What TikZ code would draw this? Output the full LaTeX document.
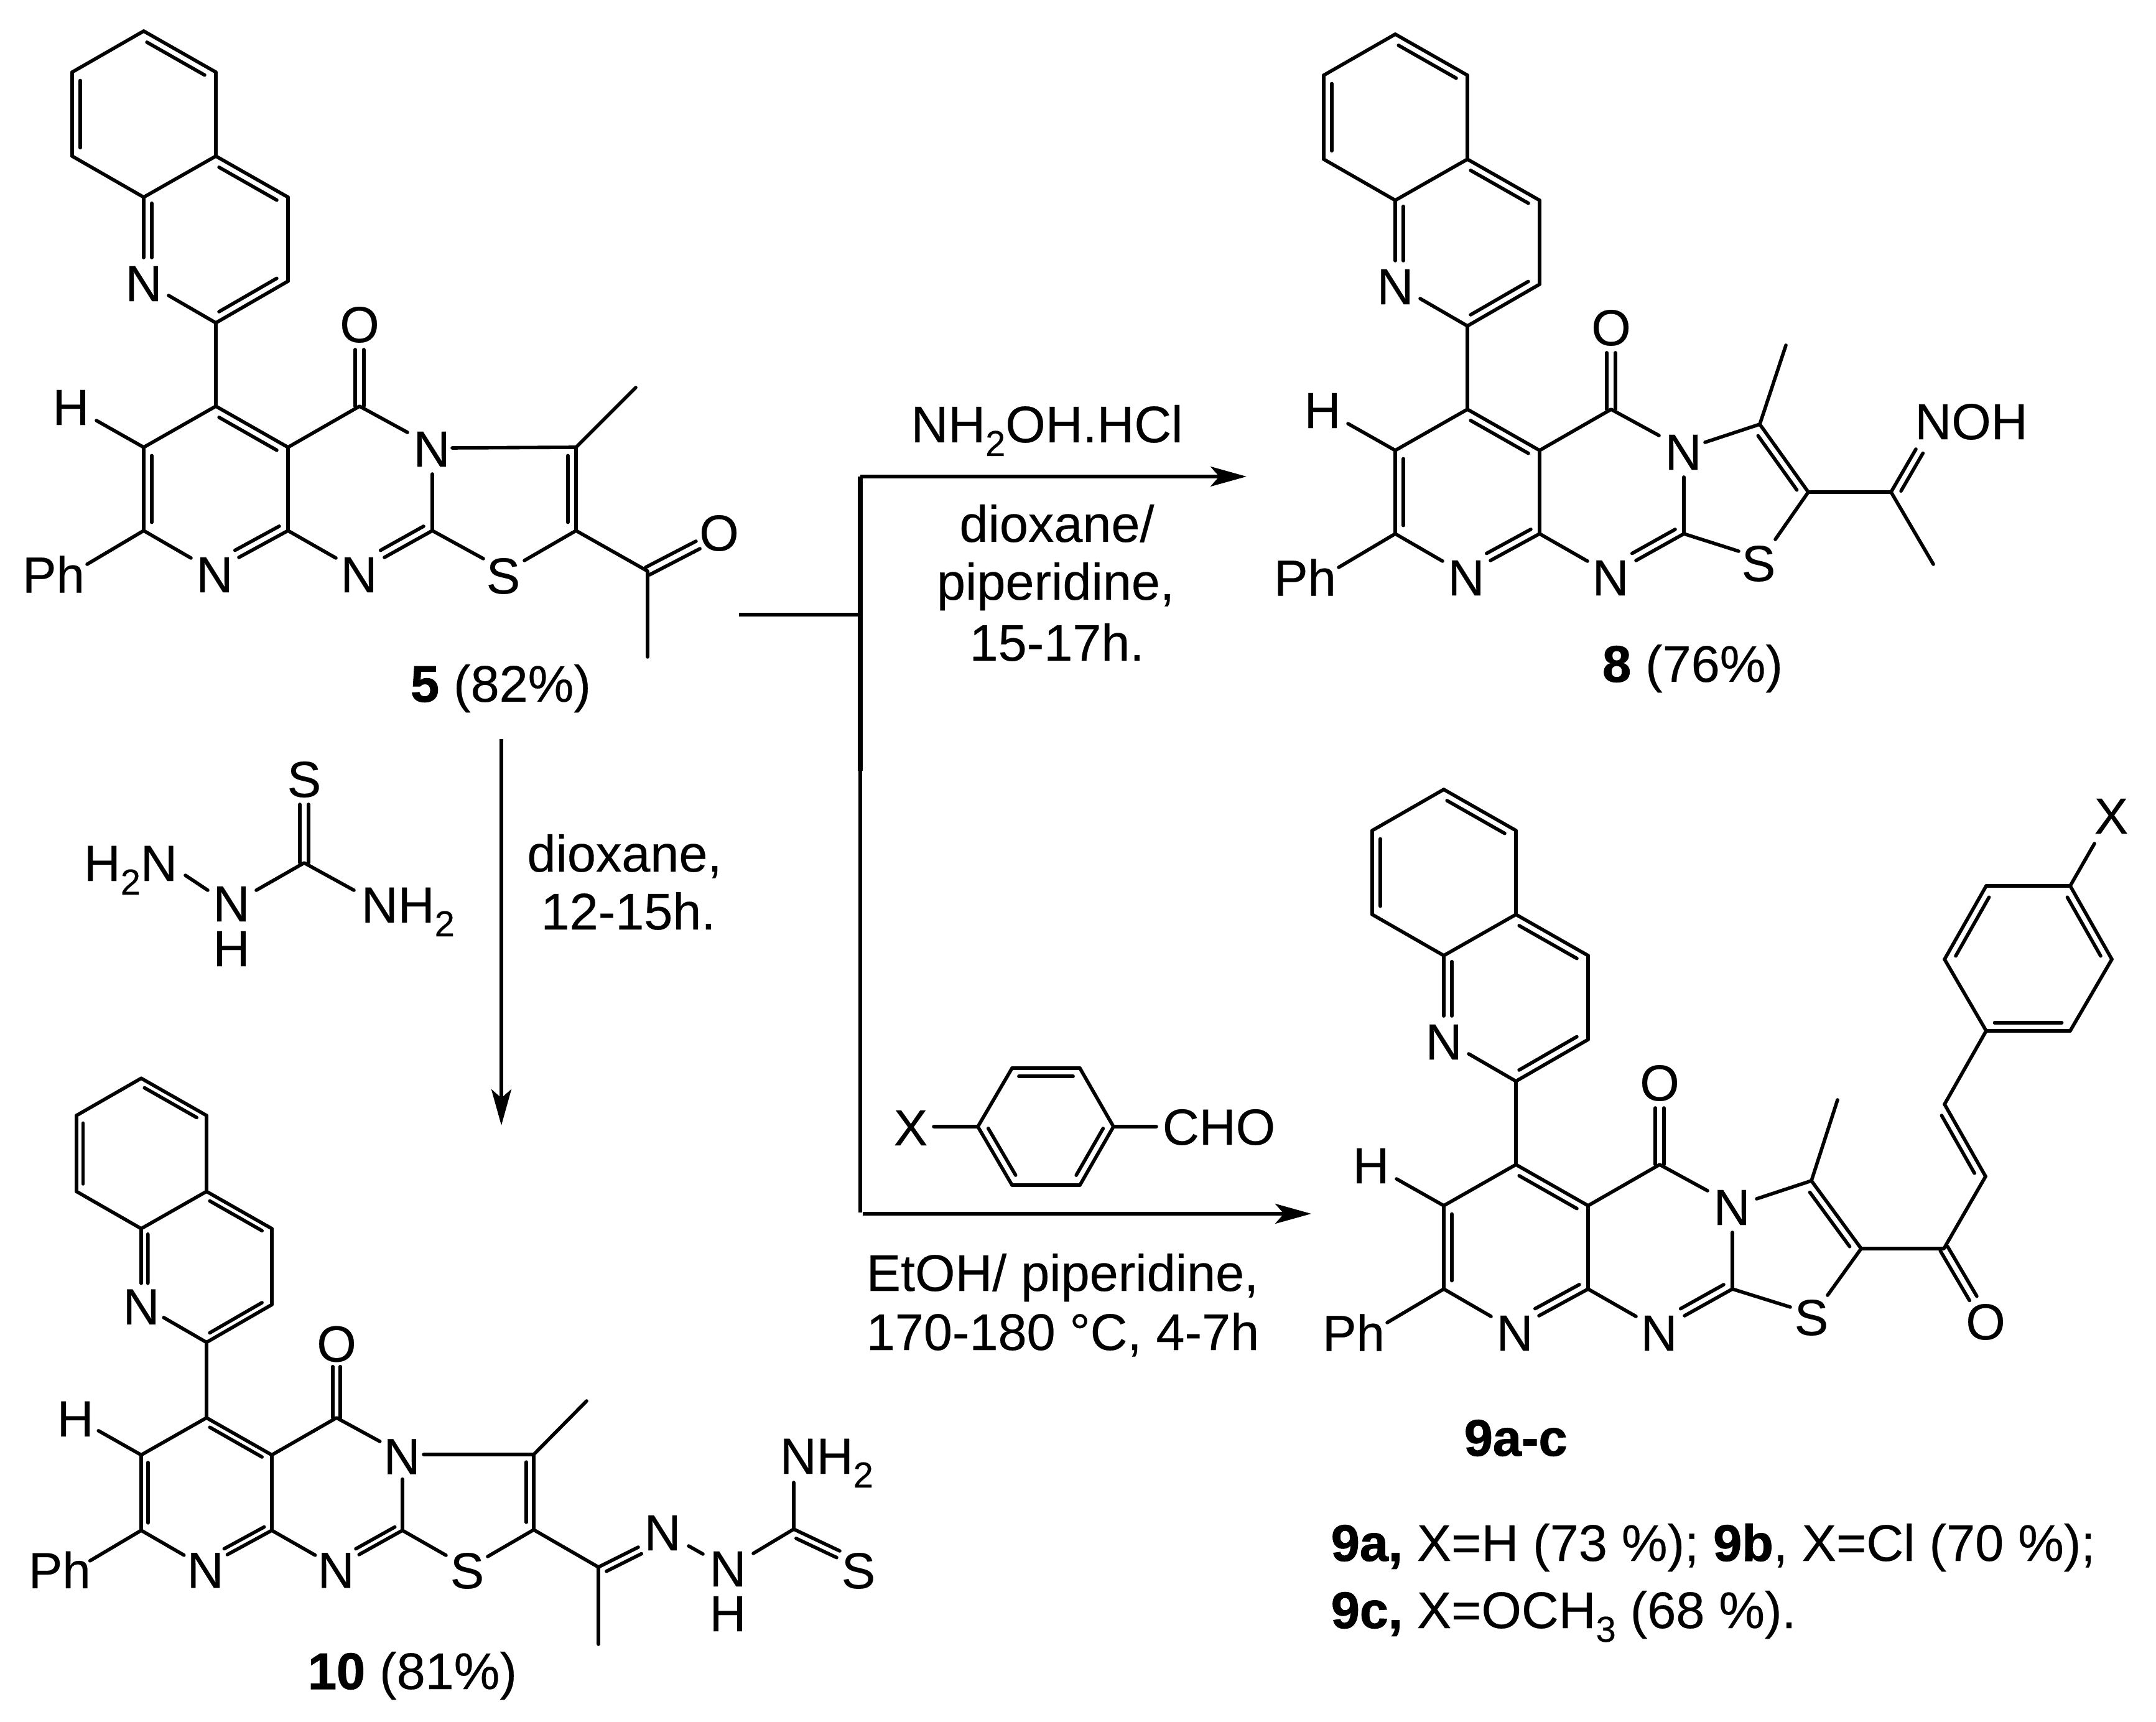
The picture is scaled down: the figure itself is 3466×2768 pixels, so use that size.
\documentclass[tikz,border=0pt]{standalone}
\usepackage{fontspec}
\setmainfont{Liberation Sans}[FakeBold=0.3,BoldFeatures={FakeBold=1.2}]
\usetikzlibrary{calc,arrows.meta}
\newcommand{\atomfont}{\fontsize{20.4}{24}\selectfont}
\newcommand{\rxfont}{\fontsize{20.7}{24}\selectfont}
\newcommand{\subsc}[1]{\raisebox{-5.5pt}{\fontsize{14.5}{14.5}\selectfont #1}}
\tikzset{
  bond/.style={line width=1.4pt,line cap=round,line join=round},
  rxline/.style={line width=1.4pt},
  rxarrow/.style={line width=1.4pt,-{Stealth[length=14.5pt,width=8pt,inset=3.5pt]}},
  atom/.style={font=\atomfont,inner sep=0pt},
  atomb/.style={font=\atomfont,inner sep=0pt,anchor=base west},
  atomstack/.style={font=\fontsize{20.4}{18}\selectfont,inner sep=0pt,align=center},
  rxtext/.style={font=\rxfont,inner sep=0pt,anchor=base},
  rxleft/.style={font=\rxfont,inner sep=0pt,anchor=base west}
}
\def\bondoff{3.25pt}
\def\halfoff{1.7pt}
% double bond: outer a--b, inner line shifted to one side
\newcommand{\dblx}[6]{%
  \draw[bond] (#1) -- (#2);
  \coordinate (pp) at ($(#1)!\bondoff!#3:(#2)$);
  \coordinate (qq) at ($(#2)!\bondoff!#4:(#1)$);
  \draw[bond] ($(pp)!#5!(qq)$) -- ($(pp)!#6!(qq)$);}
\newcommand{\dl}[2]{\dblx{#1}{#2}{90}{-90}{.1}{.9}}
\newcommand{\dr}[2]{\dblx{#1}{#2}{-90}{90}{.1}{.9}}
\newcommand{\dlx}[4]{\dblx{#1}{#2}{90}{-90}{#3}{#4}}
\newcommand{\drx}[4]{\dblx{#1}{#2}{-90}{90}{#3}{#4}}
% symmetric double bond
\newcommand{\dsym}[2]{%
  \draw[bond] ($(#1)!\halfoff!90:(#2)$) -- ($(#2)!\halfoff!-90:(#1)$);
  \draw[bond] ($(#1)!\halfoff!-90:(#2)$) -- ($(#2)!\halfoff!90:(#1)$);}
% common quinolinyl-pyridopyrimidinone scaffold
\newcommand{\scaffold}[4]{%
  \begin{scope}[shift={(#2,#3)},scale=#4]
    \coordinate (#1t) at (-116,-603);
    \coordinate (#1ur) at (0,-537);
    \coordinate (#1cfa) at (0,-402);
    \coordinate (#1cea) at (-116,-336);
    \coordinate (#1ll) at (-231,-402);
    \coordinate (#1ul) at (-231,-537);
    \coordinate (#1cc) at (116,-336);
    \coordinate (#1cd) at (116,-201);
    \coordinate (#1cb) at (0,-134);
    \coordinate (#1nqt) at (-116,-239);
    \coordinate (#1nqe) at (-76,-178);
    \node[atom] (#1nq) at (-116,-197) {N};
    \coordinate (#1cf) at (0,0);
    \coordinate (#1ch) at (-116,66);
    \coordinate (#1cp) at (-116,200);
    \coordinate (#1cj) at (116,200);
    \coordinate (#1ci) at (116,66);
    \coordinate (#1co) at (231,0);
    \coordinate (#1ot) at (231,-91);
    \node[atom] (#1o) at (231,-131) {O};
    \node[atom] (#1na) at (347,69) {N};
    \coordinate (#1nae) at (308,42);
    \coordinate (#1nab) at (348,109);
    \coordinate (#1ck) at (348,200);
    \node[atom] (#1nb) at (-2,271) {N};
    \coordinate (#1nbl) at (-40,244);
    \coordinate (#1nbr) at (37,243);
    \node[atom] (#1nc) at (230,271) {N};
    \coordinate (#1ncl) at (193,244);
    \coordinate (#1ncr) at (271,243);
    \node[atom] (#1h) at (-233,2) {H};
    \coordinate (#1hs) at (-192,23);
    \node[atom] (#1ph) at (-261,270) {Ph};
    \coordinate (#1phs) at (-207,254);
    \dr{#1t}{#1ur}
    \draw[bond] (#1ur) -- (#1cfa) -- (#1cea) -- (#1ll);
    \dl{#1ul}{#1ll}
    \draw[bond] (#1ul) -- (#1t);
    \dr{#1cfa}{#1cc}
    \draw[bond] (#1cc) -- (#1cd);
    \dl{#1cb}{#1cd}
    \dlx{#1cea}{#1nqt}{.1}{1}
    \draw[bond] (#1cb) -- (#1nqe);
    \draw[bond] (#1cb) -- (#1cf);
    \dr{#1cf}{#1ci}
    \draw[bond] (#1cf) -- (#1ch);
    \dl{#1ch}{#1cp}
    \draw[bond] (#1cp) -- (#1nbl);
    \dlx{#1nbr}{#1cj}{0}{.9}
    \draw[bond] (#1ci) -- (#1cj) (#1ci) -- (#1co) -- (#1nae);
    \dsym{#1co}{#1ot}
    \draw[bond] (#1cj) -- (#1ncl);
    \dlx{#1ncr}{#1ck}{0}{.9}
    \draw[bond] (#1nab) -- (#1ck);
    \draw[bond] (#1ch) -- (#1hs);
    \draw[bond] (#1cp) -- (#1phs);
  \end{scope}}
\begin{document}
\begin{tikzpicture}[x=0.25pt,y=-0.25pt]
\useasboundingbox (0,0) rectangle (3466,2768);

% ---------- compound 5
\scaffold{a}{347}{653}{1}
\node[atom] (aS) at (809,926) {S};
\coordinate (aSl) at (777,898);
\coordinate (aSr) at (843,901);
\coordinate (aCe) at (926,853);
\coordinate (aCd) at (926,719);
\coordinate (aNs) at (727,720);
\coordinate (aMe) at (1022,623);
\coordinate (aAc) at (1041,918);
\coordinate (aAm) at (1041,1056);
\coordinate (aOe) at (1122,876);
\node[atom] (aO) at (1156,857) {O};
\draw[bond] (ack) -- (aSl);
\draw[bond] (aSr) -- (aCe) -- (aAc) -- (aAm);
\dr{aCd}{aCe}
\draw[bond] (aNs) -- (aCd) -- (aMe);
\dsym{aAc}{aOe}
\node[rxtext] (lab5) at (805,1128) {\textbf{5} (82\%)};

% ---------- compound 8
\scaffold{b}{2359}{658}{1}
\node[atom] (bS) at (2827,906) {S};
\coordinate (bSl) at (2795,886);
\coordinate (bSr) at (2854,867);
\coordinate (bCe) at (2907,791);
\coordinate (bCd) at (2829,682);
\coordinate (bNs) at (2741,711);
\coordinate (bMe) at (2871,555);
\coordinate (bCn) at (3040,791);
\coordinate (bNe) at (3080,722);
\coordinate (bMf) at (3108,907);
\node[atom] (bNOH) at (3169,678) {NOH};
\draw[bond] (bck) -- (bSl);
\draw[bond] (bSr) -- (bCe) -- (bCn) -- (bMf);
\dr{bCd}{bCe}
\draw[bond] (bNs) -- (bCd) -- (bMe);
\drx{bCn}{bNe}{.12}{1}
\node[rxtext] (lab8) at (2721,1096) {\textbf{8} (76\%)};

% ---------- compound 9
\scaffold{c}{2437}{1872}{1}
\node[atom] (cS) at (2912,2118) {S};
\coordinate (cSl) at (2878,2101);
\coordinate (cSr) at (2938,2082);
\coordinate (cCe) at (2992,2007);
\coordinate (cCd) at (2912,1898);
\coordinate (cNs) at (2824,1927);
\coordinate (cMe) at (2954,1768);
\coordinate (cCo) at (3125,2007);
\coordinate (cOe) at (3172,2087);
\node[atom] (cO) at (3192,2125) {O};
\coordinate (cAa) at (3192,1891);
\coordinate (cAb) at (3126,1775);
\coordinate (cR) at (3193,1657);
\coordinate (cRa) at (3126,1542);
\coordinate (cRb) at (3193,1424);
\coordinate (cRc) at (3328,1424);
\coordinate (cRd) at (3395,1542);
\coordinate (cRe) at (3328,1657);
\coordinate (cXs) at (3367,1356);
\node[atom] (cX) at (3394,1312) {X};
\draw[bond] (cck) -- (cSl);
\draw[bond] (cSr) -- (cCe) -- (cCo) -- (cAa);
\dr{cCd}{cCe}
\draw[bond] (cNs) -- (cCd) -- (cMe);
\dsym{cCo}{cOe}
\dr{cAb}{cAa}
\draw[bond] (cAb) -- (cR) -- (cRa);
\dr{cRa}{cRb}
\draw[bond] (cRb) -- (cRc) -- (cXs);
\dr{cRc}{cRd}
\draw[bond] (cRd) -- (cRe);
\dl{cR}{cRe}
\node[rxleft] (lab9) at (2353,2340) {\textbf{9a-c}};
\node[rxleft] (lab9a) at (2139,2509) {\textbf{9a,} X=H (73 \%); \textbf{9b}, X=Cl (70 \%);};
\node[rxleft] (lab9c) at (2139,2617) {\textbf{9c,} X=OCH\subsc{3} (68 \%).};

% ---------- compound 10
\def\bondoff{2.95pt}
\scaffold{d}{332}{2279}{0.905}
\node[atom] (dS) at (751,2525) {S};
\coordinate (dSl) at (717,2500);
\coordinate (dSr) at (784,2502);
\coordinate (dCe) at (858,2459);
\coordinate (dCd) at (858,2338);
\coordinate (dNs) at (681,2338);
\coordinate (dMe) at (943,2252);
\coordinate (dCn) at (962,2519);
\coordinate (dMf) at (962,2643);
\coordinate (dNe) at (1026,2487);
\node[atom] (dNa) at (1065,2464) {N};
\coordinate (dNb) at (1107,2485);
\coordinate (dNc) at (1130,2498);
\node[atomstack] (dNH) at (1170,2558) {N\\H};
\coordinate (dNd) at (1211,2497);
\coordinate (dCs) at (1276,2458);
\coordinate (dNf) at (1276,2383);
\node[atomb] (dNHt) at (1253,2369) {NH\subsc{2}};
\coordinate (dSe) at (1350,2493);
\node[atom] (dSt) at (1380,2525) {S};
\draw[bond] (dck) -- (dSl);
\draw[bond] (dSr) -- (dCe) -- (dCn) -- (dMf);
\dr{dCd}{dCe}
\draw[bond] (dNs) -- (dCd) -- (dMe);
\drx{dCn}{dNe}{.12}{1}
\draw[bond] (dNb) -- (dNc);
\draw[bond] (dNd) -- (dCs) -- (dNf);
\drx{dCs}{dSe}{.12}{1}
\node[rxtext] (lab10) at (663,2715) {\textbf{10} (81\%)};
\def\bondoff{3.25pt}

% ---------- thiosemicarbazide
\node[atom] (tS) at (489,1253) {S};
\coordinate (tSe) at (489,1293);
\coordinate (tC) at (489,1387);
\coordinate (tNa) at (412,1431);
\coordinate (tNb) at (569,1431);
\coordinate (tNc) at (334,1431);
\coordinate (tNd) at (298,1407);
\node[atomb] (tHN) at (134,1416) {H\subsc{2}N};
\node[atomstack] (tN) at (372,1489) {N\\H};
\node[atomb] (tNH) at (580,1483) {NH\subsc{2}};
\dsym{tC}{tSe}
\draw[bond] (tNa) -- (tC) -- (tNb);
\draw[bond] (tNc) -- (tNd);

% ---------- 4-X-benzaldehyde
\coordinate (xA) at (1572,1811);
\coordinate (xB) at (1627,1717);
\coordinate (xC) at (1736,1717);
\coordinate (xD) at (1790,1811);
\coordinate (xE) at (1736,1905);
\coordinate (xF) at (1627,1905);
\coordinate (xS) at (1501,1811);
\coordinate (xT) at (1859,1811);
\node[atom] (xX) at (1464,1813) {X};
\node[atom,anchor=base west] (xCHO) at (1868,1840) {CHO};
\dr{xB}{xC}
\dl{xA}{xF}
\dl{xE}{xD}
\draw[bond] (xA) -- (xB) (xC) -- (xD) (xE) -- (xF) (xS) -- (xA) (xD) -- (xT);

% ---------- reaction arrows
\coordinate (jTop) at (1383,766);
\coordinate (jMid) at (1383,1239);
\coordinate (jBot) at (1383,1949);
\coordinate (jStub) at (1383,988);
\coordinate (stubL) at (1188,988);
\coordinate (tipA) at (2004,766);
\coordinate (startB) at (1387,1951);
\coordinate (tipB) at (2108,1951);
\coordinate (vTop) at (806,1188);
\coordinate (vTip) at (806,1809);
\draw[line width=1.8pt] (jTop) -- (jMid);
\draw[rxline] (jMid) -- (jBot);
\draw[rxline] (stubL) -- (jStub);
\draw[rxarrow] (jTop) -- (tipA);
\draw[rxarrow] (startB) -- (tipB);
\draw[rxarrow] (vTop) -- (vTip);

% ---------- conditions
\node[rxtext] (r1) at (1683,711) {NH\subsc{2}OH.HCl};
\node[rxtext] (r2) at (1699,871) {dioxane/};
\node[rxtext] (r3) at (1697,964) {piperidine,};
\node[rxtext] (r4) at (1699,1062) {15-17h.};
\node[rxtext] (r5) at (1004,1401) {dioxane,};
\node[rxtext] (r6) at (1010,1494) {12-15h.};
\node[rxleft] (r7) at (1392,2075) {EtOH/ piperidine,};
\node[rxleft] (r8) at (1392,2170) {170-180 °C, 4-7h};
\end{tikzpicture}
\end{document}
